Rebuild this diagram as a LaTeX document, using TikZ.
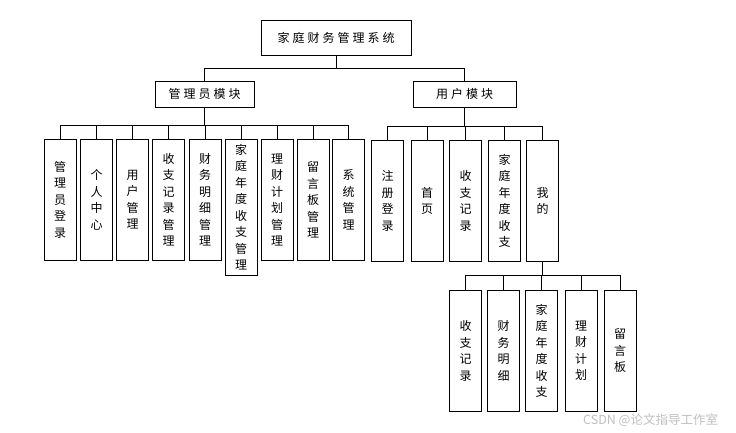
\documentclass[tikz,border=0pt]{standalone}
\usepackage{fontspec}
\setmainfont{Noto Sans CJK SC}
\newfontfamily\spacedfont[LetterSpace=25]{Noto Sans CJK SC}
\usepackage{tikz}

\begin{document}
\begin{tikzpicture}[x=1pt,y=-1pt,
	box/.style={draw,line width=0.8pt,inner xsep=0pt,inner ysep=3pt},
	hbox/.style={box,minimum height=26pt,font=\spacedfont\fontsize{12}{16.5}\selectfont},
	vbox/.style={box,anchor=north,minimum width=32pt,minimum height=121pt,align=center,font=\fontsize{12}{16.5}\selectfont},
	link/.style={line width=0.8pt}]
	\useasboundingbox (0,0) rectangle (736,432);
	%
	\node[hbox,minimum width=150pt,minimum height=35pt] (sys) at (336,37.5) {家庭财务管理系统};
	\node[hbox,minimum width=99pt] (adm) at (204.5,94) {管理员模块};
	\node[hbox,minimum width=103pt] (usr) at (464.5,94) {用户模块};
	%
	\node[vbox] (a1) at (60,139) {管\\理\\员\\登\\录};
	\node[vbox] (a2) at (96.5,139) {个\\人\\中\\心};
	\node[vbox] (a3) at (132.5,139) {用\\户\\管\\理};
	\node[vbox] (a4) at (168.5,139) {收\\支\\记\\录\\管\\理};
	\node[vbox] (a5) at (205,139) {财\\务\\明\\细\\管\\理};
	\node[vbox,minimum height=136pt] (a6) at (241,139) {家\\庭\\年\\度\\收\\支\\管\\理};
	\node[vbox] (a7) at (277,139) {理\\财\\计\\划\\管\\理};
	\node[vbox] (a8) at (313,139) {留\\言\\板\\管\\理};
	\node[vbox] (a9) at (348.5,139) {系\\统\\管\\理};
	%
	\node[vbox] (u1) at (387.5,140) {注\\册\\登\\录};
	\node[vbox] (u2) at (427,140) {首\\页};
	\node[vbox] (u3) at (465.5,140) {收\\支\\记\\录};
	\node[vbox] (u4) at (504.5,140) {家\\庭\\年\\度\\收\\支};
	\node[vbox] (u5) at (542.5,140) {我\\的};
	%
	\node[vbox] (m1) at (465.5,290) {收\\支\\记\\录};
	\node[vbox] (m2) at (503.5,290) {财\\务\\明\\细};
	\node[vbox] (m3) at (541.5,290) {家\\庭\\年\\度\\收\\支};
	\node[vbox] (m4) at (581,290) {理\\财\\计\\划};
	\node[vbox] (m5) at (620,290) {留\\言\\板};
	%
	\draw[link] (sys.south) -- ++(0,13) -| (adm.north);
	\draw[link] (sys.south) -- ++(0,13) -| (usr.north);
	\foreach \n in {a1,a2,a3,a4,a5,a6,a7,a8,a9}
		\draw[link] (adm.south) -- ++(0,18) -| (\n.north);
	\foreach \n in {u1,u2,u3,u4,u5}
		\draw[link] (usr.south) -- ++(0,19) -| (\n.north);
	\foreach \n in {m1,m2,m3,m4,m5}
		\draw[link] (u5.south) -- ++(0,14) -| (\n.north);
	%
	\node[text=black!25,font=\fontsize{12.5}{14}\selectfont,anchor=west,inner sep=0pt] (mark) at (583,420) {CSDN @论文指导工作室};
\end{tikzpicture}
\end{document}
